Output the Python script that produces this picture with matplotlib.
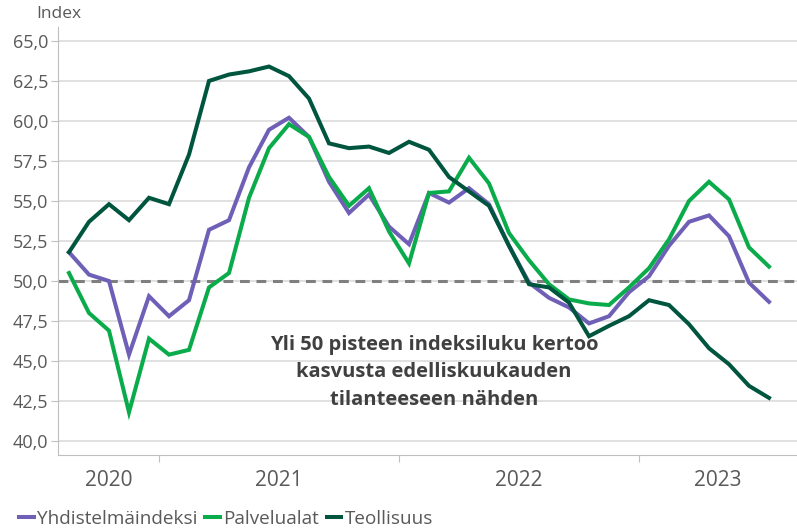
import numpy as np
import matplotlib
matplotlib.use('Agg')
import matplotlib.pyplot as plt
from matplotlib.ticker import FuncFormatter, FixedLocator

# Kuukausittaiset indeksit 8/2020 - 7/2023
yhdistelma = [51.8, 50.4, 50.0, 45.4, 49.05, 47.8, 48.8, 53.2, 53.8, 57.1, 59.45, 60.2,
              59.0, 56.2, 54.25, 55.4, 53.4, 52.3, 55.5, 54.9, 55.8, 54.8, 52.2, 49.9,
              48.95, 48.35, 47.35, 47.8, 49.3, 50.3, 52.2, 53.7, 54.1, 52.8, 49.9, 48.7]
palvelut = [50.5, 48.0, 46.9, 41.8, 46.4, 45.4, 45.7, 49.6, 50.5, 55.2, 58.3, 59.8,
            59.0, 56.5, 54.7, 55.8, 53.1, 51.1, 55.5, 55.6, 57.7, 56.1, 53.0, 51.3,
            49.8, 48.85, 48.6, 48.5, 49.6, 50.8, 52.6, 55.0, 56.2, 55.1, 52.1, 50.9]
teollisuus = [51.8, 53.7, 54.8, 53.8, 55.2, 54.8, 57.9, 62.5, 62.9, 63.1, 63.4, 62.8,
              61.4, 58.6, 58.3, 58.4, 58.0, 58.7, 58.2, 56.5, 55.6, 54.7, 52.2, 49.8,
              49.6, 48.65, 46.55, 47.2, 47.8, 48.8, 48.5, 47.3, 45.8, 44.8, 43.45, 42.7]
vuodet = ['2020', '2021', '2022', '2023']
kk_per_vuosi = [5, 12, 12, 7]

sarjat = [
    ('Yhdistelmäindeksi', yhdistelma, '#6f5fb6'),
    ('Palvelualat', palvelut, '#0aab4a'),
    ('Teollisuus', teollisuus, '#00553f'),
]

plt.rcParams['font.family'] = ['Open Sans', 'DejaVu Sans']

fig = plt.figure(figsize=(7.97, 5.29), dpi=100)
ax = fig.add_axes([58 / 797, 74 / 529, 1 - 58 / 797, (455 - 27) / 529])

x = np.arange(len(yhdistelma))
for nimi, arvot, vari in sarjat:
    ax.plot(x, arvot, color=vari, linewidth=2.9, label=nimi, zorder=3,
            solid_joinstyle='miter')

# 50-raja
ax.axhline(50, color='#7f7f7f', linewidth=2.2, linestyle=(0, (3.2, 2.2)), zorder=2)

ax.set_ylim(39.13, 65.87)
ax.set_xlim(-0.55, 36.4)
ax.set_yticks(np.arange(40, 65.1, 2.5))
ax.yaxis.set_major_formatter(FuncFormatter(lambda v, p: f'{v:.1f}'.replace('.', ',')))
ax.grid(axis='y', color='#d9d9d9', linewidth=1.1, zorder=1)
ax.tick_params(axis='y', length=5, color='#bfbfbf', labelsize=13, labelcolor='#595959', pad=2)

# vuosiryhmät
rajat = np.cumsum(kk_per_vuosi)[:-1] - 0.5
ax.xaxis.set_major_locator(FixedLocator(rajat))
ax.xaxis.set_major_formatter(FuncFormatter(lambda v, p: ''))
keskit = [(-0.55 + rajat[0]) / 2, (rajat[0] + rajat[1]) / 2, (rajat[1] + rajat[2]) / 2,
          (rajat[2] + 36.4) / 2]
ax.xaxis.set_minor_locator(FixedLocator(keskit))
ax.set_xticklabels(vuodet, minor=True)
ax.tick_params(axis='x', which='major', length=5, color='#bfbfbf')
ax.tick_params(axis='x', which='minor', length=0, labelsize=15, labelcolor='#595959', pad=11)

for s in ['top', 'right']:
    ax.spines[s].set_visible(False)
ax.spines['left'].set_color('#bfbfbf')
ax.spines['bottom'].set_color('#bfbfbf')

fig.text(36 / 797, 1 - 14 / 529, 'Index', fontsize=12.5, color='#595959', va='center')

ax.text(18.25, 44.3, 'Yli 50 pisteen indeksiluku kertoo\nkasvusta edelliskuukauden\ntilanteeseen nähden',
        ha='center', va='center', fontsize=14.5, fontweight='bold', color='#404040',
        linespacing=1.5, zorder=4)

leg = fig.legend(loc='lower left', bbox_to_anchor=(0.003, -0.03), ncol=3, frameon=False,
                 fontsize=13.6, handlelength=0.75, handletextpad=0.2, columnspacing=0.4,
                 labelcolor='#595959')

fig.savefig('out.png', dpi=100)
